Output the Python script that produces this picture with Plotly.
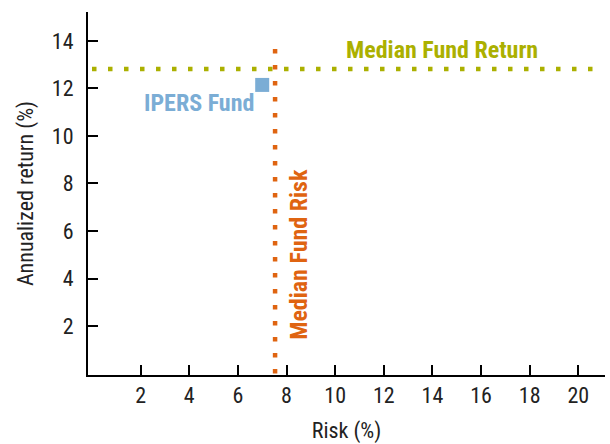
import plotly.graph_objects as go

# Data
fund_name = "IPERS Fund"
fund_risk = [7.0]
fund_return = [12.15]
median_risk = 7.53
median_return = 12.82
risk_span = [0, 20.6]
return_span = [0, 14.1]
x_ticks = [2, 4, 6, 8, 10, 12, 14, 16, 18, 20]
y_ticks = [2, 4, 6, 8, 10, 12, 14]

OLIVE = "#abb000"
ORANGE = "#df6411"
BLUE = "#7badd5"
FONT = "Liberation Sans Narrow, Roboto Condensed, Arial Narrow, sans-serif"

fig = go.Figure()
fig.add_trace(go.Scatter(
    x=risk_span, y=[median_return, median_return], mode="lines",
    line=dict(color=OLIVE, width=4.5, dash="4.5px,11.5px"), hoverinfo="skip"))
fig.add_trace(go.Scatter(
    x=[median_risk, median_risk], y=return_span, mode="lines",
    line=dict(color=ORANGE, width=4.5, dash="4.5px,11.5px"), hoverinfo="skip"))
fig.add_trace(go.Scatter(
    x=fund_risk, y=fund_return, mode="markers",
    marker=dict(symbol="square", size=14, color=BLUE), name=fund_name))

fig.add_annotation(x=14.4, y=median_return, yshift=19, text="<b>Median Fund Return</b>",
                   showarrow=False, font=dict(family=FONT, size=24, color=OLIVE))
fig.add_annotation(x=fund_risk[0], y=fund_return[0], xshift=-6, yshift=-18, xanchor="right",
                   text="<b>" + fund_name + "</b>",
                   showarrow=False, font=dict(family=FONT, size=24, color=BLUE))
fig.add_annotation(x=median_risk, y=5.0, xshift=24, text="<b>Median Fund Risk</b>", textangle=-90,
                   showarrow=False, font=dict(family=FONT, size=24, color=ORANGE))

axis_common = dict(showline=True, linecolor="black", linewidth=2, ticks="inside",
                   ticklen=10, tickwidth=1.5, tickcolor="black", showgrid=False,
                   zeroline=False, tickfont=dict(family=FONT, size=22, color="#222"),
                   mirror=False, automargin=False)

fig.update_layout(
    width=610, height=444, showlegend=False,
    paper_bgcolor="white", plot_bgcolor="white",
    margin=dict(l=88, r=5, t=12, b=69),
    xaxis=dict(range=[-0.165, 21.1], tickvals=x_ticks,
               title=dict(text="Risk (%)", font=dict(family=FONT, size=22, color="#222"), standoff=16),
               **axis_common),
    yaxis=dict(range=[-0.063, 15.22], tickvals=y_ticks, ticklabelstandoff=8,
               title=dict(text="Annualized return (%)", font=dict(family=FONT, size=22, color="#222"), standoff=12),
               **axis_common),
)

fig.write_html("out.html", config={"displayModeBar": False},
               post_script="document.body.style.margin='0px';")
